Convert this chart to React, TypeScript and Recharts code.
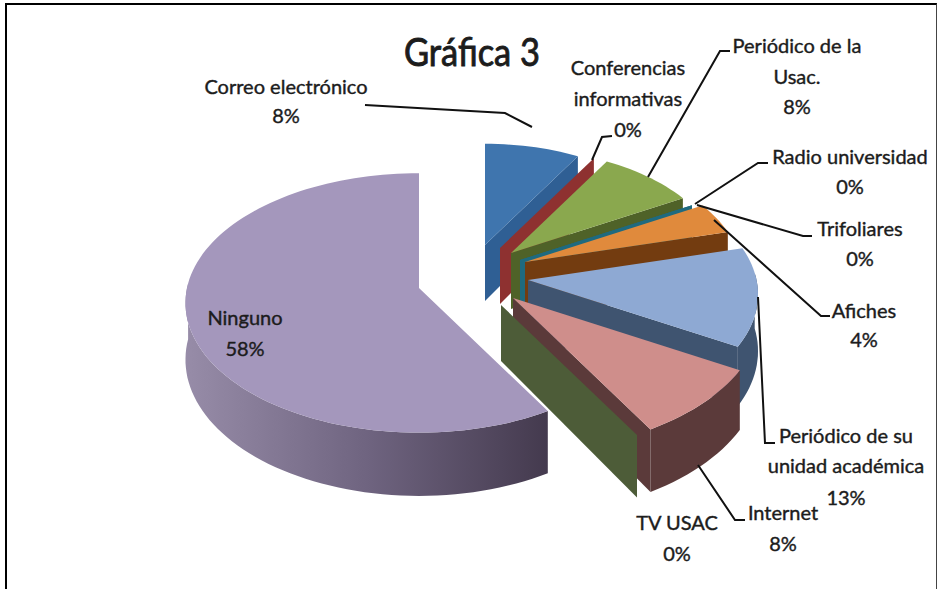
import React from 'react';
import { PieChart, Pie } from 'recharts';

// --- Data ---

const categories = [
    'Correo electrónico',
    'Conferencias informativas',
    'Periódico de la Usac.',
    'Radio universidad',
    'Trifoliares',
    'Afiches',
    'Periódico de su unidad académica',
    'Internet',
    'TV USAC',
    'Ninguno'
];
const responses = [2, 0, 2, 0, 0, 1, 3, 2, 0, 14];

const data = categories.map((name, i) => ({ name, value: responses[i] }));

// --- Look of each slice (same order as categories) ---

const topColors = ['#3f75ae', '#953735', '#8aa84e', '#2f7f96', '#2f7f96', '#e08a3c', '#8ea9d3', '#cf8e8b', '#4d5c38', '#a497bc'];
const wallColors = ['#2f5f94', '#8e3130', '#4f6228', '#1f6a7f', '#1f6a7f', '#733c10', '#3f5470', '#5b3a3a', '#4d5c38', 'url(#ningunoRim)'];
const explode = [
    { dx: 63, dy: -43, scale: 0.87 },
    { dx: 78, dy: -40, scale: 0.88 },
    { dx: 89, dy: -35, scale: 0.9 },
    { dx: 98, dy: -28, scale: 0.9 },
    { dx: 98, dy: -28, scale: 0.9 },
    { dx: 103, dy: -26, scale: 0.93 },
    { dx: 106, dy: -8, scale: 0.985 },
    { dx: 91, dy: 10, scale: 1.06 },
    { dx: 79, dy: 17, scale: 1.05 },
    { dx: -3, dy: 0, scale: 1 }
];

// --- Label text and leader lines ---

const labelLayout = [
    { x: 286, baselines: [94, 123], lines: ['Correo electrónico'], leader: '365,105 505,113 532,127' },
    { x: 628, baselines: [75, 106, 137], lines: ['Conferencias', 'informativas'], leader: '592,160 602,137 612,136' },
    { x: 797, baselines: [53, 84, 114], lines: ['Periódico de la', 'Usac.'], leader: '648,177 720,51 730,51' },
    { x: 850, baselines: [164, 194], lines: ['Radio universidad'], leader: '695,204 758,163 768,163' },
    { x: 860, baselines: [236, 266], lines: ['Trifoliares'], leader: '697,205 803,236 812,236' },
    { x: 864, baselines: [318, 347], lines: ['Afiches'], leader: '714,220 821,316 830,316' },
    { x: 846, baselines: [443, 473, 505], lines: ['Periódico de su', 'unidad académica'], leader: '758,297 765,443 775,443' },
    { x: 783, baselines: [520, 551], lines: ['Internet'], leader: '698,465 735,520 745,520' },
    { x: 677, baselines: [530, 561], lines: ['TV USAC'], leader: '' },
    { x: 245, baselines: [325, 356], lines: ['Ninguno'], leader: '' }
];

const fontFamily = 'Lato, "Open Sans", sans-serif';
const textColor = '#1c1c1c';

const PIE_X = 422;
const PIE_Y = 288;
const RADIUS = 232;
const SQUASH = 128;
const DEPTH = 56;
const PERSPECTIVE = 0.115;

// --- 3D slice ---

// theta is clockwise from the top, r goes 0..1 from the tip to the rim
const project = (ox: number, oy: number, rx: number, theta: number, r: number) => {
    const rad = (theta * Math.PI) / 180;
    const u = Math.sin(rad) * r;
    const v = -Math.cos(rad) * r;
    const s = 1 / (1 - PERSPECTIVE * v);
    return { x: ox + rx * u * s, y: oy + SQUASH * v * s, s };
};

const Slice3D = (props: any) => {
    const { cx, cy, outerRadius, startAngle, endAngle } = props;
    const i = categories.indexOf(props.name ?? props.payload?.name);
    const { dx, dy, scale } = explode[i];
    const a0 = 90 - startAngle;
    const a1 = 90 - endAngle;
    const at = (theta: number, r: number) => project(cx + dx, cy + dy, outerRadius, theta, r * scale);
    const pt = (p: { x: number; y: number }, down = 0) => `${p.x.toFixed(1)},${(p.y + down).toFixed(1)}`;

    const arc: { x: number; y: number; s: number }[] = [];
    const steps = Math.max(1, Math.ceil((a1 - a0) / 2));
    for (let k = 0; k <= steps; k++) arc.push(at(a0 + ((a1 - a0) * k) / steps, 1));

    const tip = at(0, 0);
    const rim = arc.filter((_, k) => {
        const theta = a0 + ((a1 - a0) * k) / steps;
        return theta >= 85 && theta <= 272;
    });
    const end = arc[arc.length - 1];

    return (
        <g>
            {a1 < 180 && (
                <polygon
                    points={[pt(tip), pt(end), pt(end, DEPTH * end.s), pt(tip, DEPTH)].join(' ')}
                    fill={wallColors[i]}
                />
            )}
            {rim.length > 1 && (
                <polygon
                    points={[
                        ...rim.map((p) => pt(p)),
                        ...[...rim].reverse().map((p) => pt(p, DEPTH * p.s))
                    ].join(' ')}
                    fill={wallColors[i]}
                />
            )}
            {a1 > a0 && (
                <polygon points={[pt(tip), ...arc.map((p) => pt(p))].join(' ')} fill={topColors[i]} />
            )}
        </g>
    );
};

// --- Labels ---

const renderLabel = (props: any) => {
    const { name, percent } = props;
    const layout = labelLayout[categories.indexOf(name)];
    const rows = [...layout.lines, `${Math.round(percent * 100)}%`];
    return (
        <g key={name}>
            {layout.leader && <polyline points={layout.leader} fill="none" stroke="#111" strokeWidth={2} />}
            {rows.map((row, k) => (
                <text
                    key={row}
                    x={layout.x}
                    y={layout.baselines[k]}
                    textAnchor="middle"
                    fontFamily={fontFamily}
                    fontSize={20}
                    fill={textColor}
                    stroke={textColor}
                    strokeWidth={0.4}
                >
                    {row}
                </text>
            ))}
        </g>
    );
};

// --- Chart ---

export default function App() {
    return (
        <div style={{ position: 'absolute', left: 0, top: 0, width: 938, height: 589, overflow: 'hidden', background: '#fff' }}>
            <div
                style={{
                    position: 'absolute',
                    left: 5,
                    top: 3,
                    right: 1,
                    bottom: 0,
                    borderTop: '2px solid #000',
                    borderLeft: '2px solid #000',
                    borderRight: '1px solid #444'
                }}
            />
            <div style={{ position: 'absolute', left: 0, top: 0 }}>
                <PieChart width={938} height={589} margin={{ top: 0, right: 0, bottom: 0, left: 0 }}>
                    <defs>
                        <linearGradient id="ningunoRim" x1="0" y1="0" x2="1" y2="0">
                            <stop offset="0%" stopColor="#978ca8" />
                            <stop offset="50%" stopColor="#6f6480" />
                            <stop offset="100%" stopColor="#443a4e" />
                        </linearGradient>
                    </defs>
                    <text
                        x={472}
                        y={66}
                        textAnchor="middle"
                        fontFamily={fontFamily}
                        fontSize={38}
                        textLength={136}
                        lengthAdjust="spacingAndGlyphs"
                        fill={textColor}
                        stroke={textColor}
                        strokeWidth={0.9}
                    >
                        Gráfica 3
                    </text>
                    <Pie
                        data={data}
                        dataKey="value"
                        nameKey="name"
                        cx={PIE_X}
                        cy={PIE_Y}
                        innerRadius={0}
                        outerRadius={RADIUS}
                        startAngle={90}
                        endAngle={-270}
                        stroke="none"
                        shape={Slice3D}
                        label={renderLabel}
                        labelLine={false}
                        isAnimationActive={false}
                    />
                </PieChart>
            </div>
        </div>
    );
}
